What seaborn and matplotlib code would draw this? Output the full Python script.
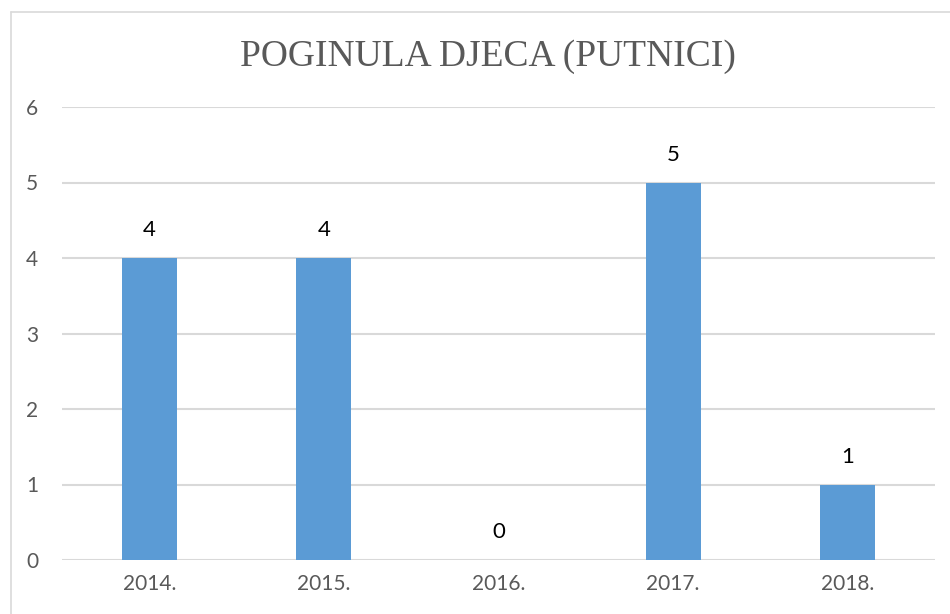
import matplotlib
matplotlib.use("Agg")
import matplotlib.pyplot as plt
from matplotlib.lines import Line2D
import seaborn as sns
import pandas as pd

years = ["2014.", "2015.", "2016.", "2017.", "2018."]
deaths = [4, 4, 0, 5, 1]
y_ticks = [0, 1, 2, 3, 4, 5, 6]

sns.set_theme(style="white")
plt.rcParams["font.family"] = ["Lato", "DejaVu Sans"]

df = pd.DataFrame({"year": years, "deaths": deaths})

fig = plt.figure(figsize=(9.5, 6.14), dpi=100)
ax = fig.add_axes([62 / 950, 1 - 560 / 614, (935 - 62) / 950, (560 - 107) / 614])

sns.barplot(data=df, x="year", y="deaths", color="#5B9BD5", width=0.315,
            saturation=1, linewidth=0, ax=ax, zorder=3)

ax.set_ylim(0, 6)
ax.set_xlim(-0.5, len(years) - 0.5)
ax.set_yticks(y_ticks)
ax.yaxis.grid(True, color="#d9d9d9", linewidth=1.5, zorder=0)
ax.set_axisbelow(True)
for s in ax.spines.values():
    s.set_visible(False)
ax.set_xlabel("")
ax.set_ylabel("")
ax.tick_params(axis="both", length=0, labelsize=15, labelcolor="#595959")
ax.tick_params(axis="y", pad=17)
ax.tick_params(axis="x", pad=10)

for i, v in enumerate(deaths):
    ax.annotate(str(v), (i, v), xytext=(0, 20), textcoords="offset points",
                ha="center", va="center", fontsize=16, color="black")

fig.text(488 / 950, 1 - 57 / 614, "POGINULA DJECA (PUTNICI)", ha="center", va="center",
         fontsize=27, color="#595959", family=["Liberation Serif", "DejaVu Serif"])

# chart frame
fx, fy = 10.5 / 950, 1 - 11.5 / 614
fig.add_artist(Line2D([fx, fx], [0, fy], transform=fig.transFigure, color="#d9d9d9", lw=1.2))
fig.add_artist(Line2D([fx, 1], [fy, fy], transform=fig.transFigure, color="#d9d9d9", lw=1.2))

fig.savefig("out.png", dpi=100)
